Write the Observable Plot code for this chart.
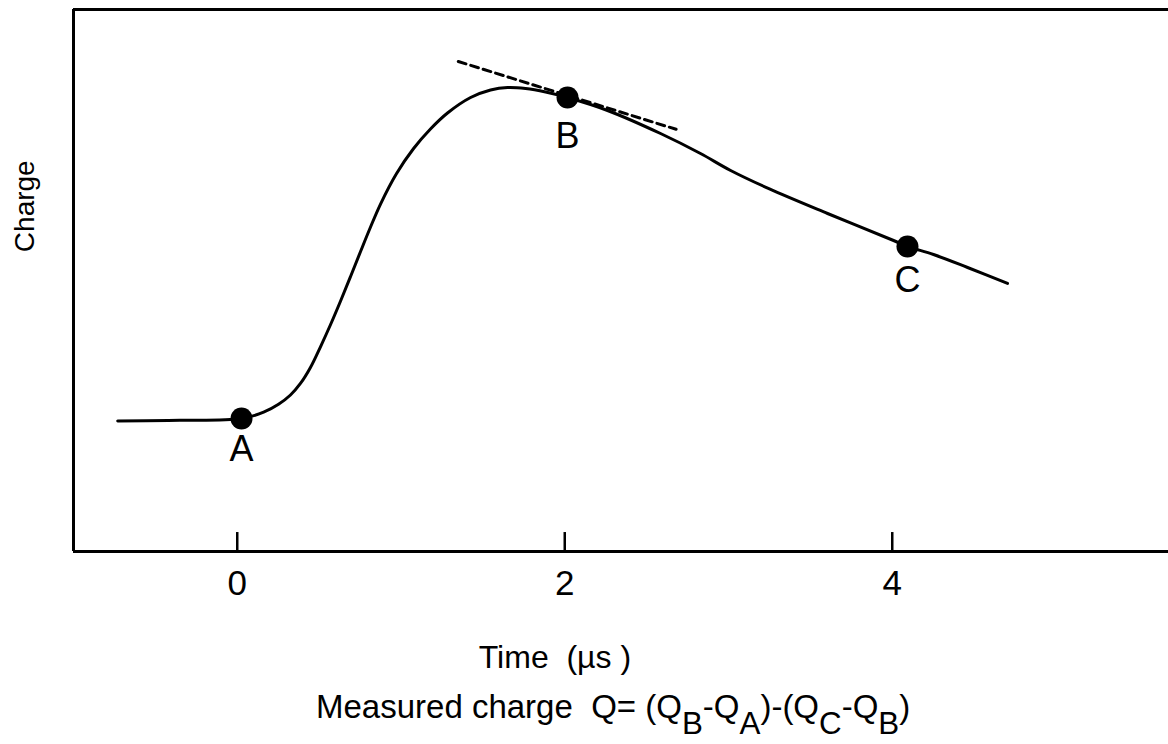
<!DOCTYPE html>
<html>
<head>
<meta charset="utf-8">
<script src="https://cdn.jsdelivr.net/npm/d3@7"></script>
<script src="https://cdn.jsdelivr.net/npm/@observablehq/plot@0.6"></script>
<style>
  html, body { margin: 0; padding: 0; background: #fff; }
  #chart svg { display: block; }
  .caption {
    font-family: "Liberation Sans", Arial, Helvetica, sans-serif;
    font-size: 33px;
    line-height: 33px;
    color: #000;
    padding-left: 316px;
    padding-bottom: 24px;
    white-space: nowrap;
  }
  .caption sub {
    font-size: 0.95em;
    vertical-align: baseline;
    position: relative;
    top: 0.52em;
  }
</style>
</head>
<body>
<div id="chart"></div>
<div class="caption">Measured charge&nbsp;&nbsp;Q= (Q<sub>B</sub>-Q<sub>A</sub>)-(Q<sub>C</sub>-Q<sub>B</sub>)</div>
<script>
// Charge waveform (arbitrary charge units) against time in microseconds
const times   = [-0.73, -0.35, 0.026, 0.161, 0.252, 0.325, 0.386, 0.447, 0.509, 0.570, 0.631, 0.692, 0.753, 0.814, 0.875, 0.973, 1.077, 1.180, 1.284, 1.425, 1.547, 1.651, 1.761, 1.883, 2.017, 2.261, 2.585, 2.829, 3.013, 3.250, 3.605, 4.008, 4.093, 4.252, 4.460, 4.704];
const charges = [24.10, 24.20, 24.54, 25.70, 27.16, 28.87, 31.00, 33.95, 37.82, 41.88, 46.22, 50.74, 55.35, 59.87, 64.11, 69.74, 74.35, 77.95, 80.90, 83.76, 85.15, 85.61, 85.42, 84.78, 83.76, 81.37, 77.12, 73.43, 70.30, 66.90, 62.36, 57.38, 56.27, 54.80, 52.40, 49.45];

// Sampling points A, B, C on the waveform
const pointNames   = ["A", "B", "C"];
const pointTimes   = [0.026, 2.017, 4.093];
const pointCharges = [24.54, 83.76, 56.27];

// Tangent to the decay at B (dashed)
const tangentTimes   = [1.35, 2.68];
const tangentCharges = [90.4, 77.9];

const tickValues = [0, 2, 4];
const xLabel = "Time\u00a0\u00a0(\u00b5s\u00a0)";
const yLabel = "Charge";

const xDomain = [-1, 5.687];
const yDomain = [0, 100];

const curve   = times.map((t, i) => ({t, q: charges[i]}));
const points  = pointNames.map((name, i) => ({name, t: pointTimes[i], q: pointCharges[i]}));
const tangent = tangentTimes.map((t, i) => ({t, q: tangentCharges[i]}));

const font = "'Liberation Sans', Arial, Helvetica, sans-serif";
// label offset below each dot, in pixels
const labelDy = {A: 43, B: 50, C: 45};

const chart = Plot.plot({
  width: 1168,
  height: 690,
  marginTop: 9,
  marginLeft: 73,
  marginRight: 0,
  marginBottom: 139,
  style: {fontFamily: font, fontSize: "35px", color: "#000", background: "#fff"},
  x: {domain: xDomain, axis: null},
  y: {domain: yDomain, axis: null},
  marks: [
    // open frame: left, top and bottom sides
    Plot.ruleX([xDomain[0]], {y1: yDomain[0], y2: yDomain[1], stroke: "#000", strokeWidth: 3}),
    Plot.ruleY([yDomain[1]], {x1: xDomain[0], x2: xDomain[1], stroke: "#000", strokeWidth: 3}),
    Plot.ruleY([yDomain[0]], {x1: xDomain[0], x2: xDomain[1], stroke: "#000", strokeWidth: 3}),
    // inward ticks on the time axis
    Plot.ruleX(tickValues, {y1: 0, y2: 3.5, stroke: "#000", strokeWidth: 2.5}),
    Plot.axisX({ticks: tickValues, tickFormat: d3.format("d"), tickSize: 0, tickPadding: 19, fontSize: 35, fontFamily: font, label: null}),
    // axis titles
    Plot.text([xLabel], {x: 1.94, y: 0, text: d => d, dy: 116, lineAnchor: "bottom", fontSize: 32, fontFamily: font, fill: "#000", letterSpacing: "0.5px"}),
    Plot.text([yLabel], {x: xDomain[0], y: 63.7, text: d => d, dx: -40, rotate: -90, lineAnchor: "bottom", fontSize: 28, fontFamily: font, fill: "#000"}),
    // tangent at B
    Plot.line(tangent, {x: "t", y: "q", stroke: "#000", strokeWidth: 3, strokeDasharray: "8,5"}),
    // waveform
    Plot.line(curve, {x: "t", y: "q", curve: "catmull-rom", stroke: "#000", strokeWidth: 3}),
    // sampling points and their names
    Plot.dot(points, {x: "t", y: "q", r: 11, fill: "#000", stroke: "none"}),
    ...points.map(p => Plot.text([p], {x: "t", y: "q", text: "name", dy: labelDy[p.name], lineAnchor: "bottom", fontSize: 36, fontFamily: font, fill: "#000"}))
  ]
});

document.getElementById("chart").appendChild(chart);
</script>
</body>
</html>
